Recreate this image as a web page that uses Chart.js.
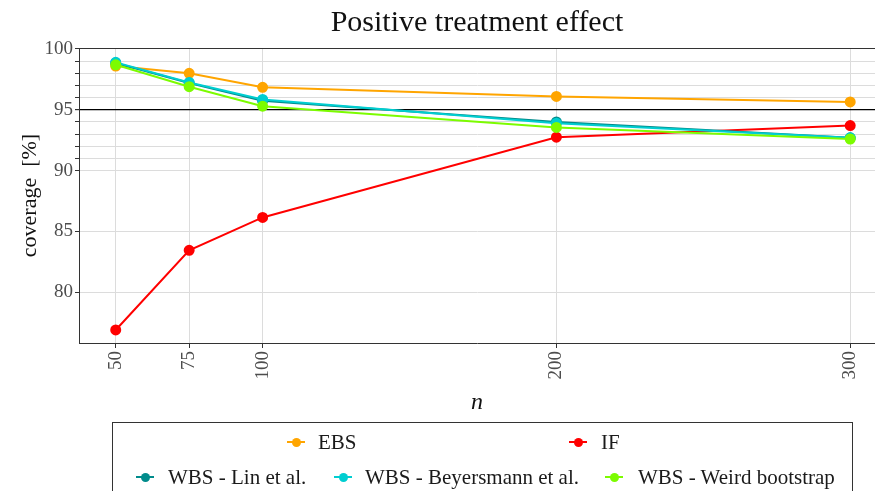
<!DOCTYPE html>
<html><head><meta charset="utf-8">
<script src="https://cdn.jsdelivr.net/npm/chart.js@4/dist/chart.umd.min.js"></script>
<style>
html,body{margin:0;padding:0;background:#fff;overflow:hidden}
#wrap{position:relative;width:875px;height:491px;overflow:hidden}
#c{position:absolute;left:0;top:0}
#legend{position:absolute;left:112px;top:422px;width:741px;height:120px;border:1px solid #333;box-sizing:border-box}
.txt{position:absolute;font:21px "Liberation Serif",serif;color:#1a1a1a;white-space:nowrap;line-height:24px;height:24px}
.mline{position:absolute;width:18px;height:2px}
.mdot{position:absolute;width:9px;height:9px;border-radius:50%}
</style></head>
<body>
<div id="wrap">
<canvas id="c" width="875" height="491"></canvas>
<div id="legend"></div>
</div>
<script>
// ---- data ----
const nValues = [50, 75, 100, 200, 300];
const ebsCoverage = [98.6, 98.0, 96.85, 96.1, 95.65];
const ifCoverage = [76.9, 83.45, 86.15, 92.75, 93.7];
const linCoverage = [98.85, 97.2, 95.75, 94.0, 92.7];
const beyersmannCoverage = [98.9, 97.25, 95.85, 93.9, 92.7];
const weirdCoverage = [98.7, 96.9, 95.3, 93.55, 92.6];
const seriesNames = ['EBS', 'IF', 'WBS - Lin et al.', 'WBS - Beyersmann et al.', 'WBS - Weird bootstrap'];
const seriesValues = [ebsCoverage, ifCoverage, linCoverage, beyersmannCoverage, weirdCoverage];
const seriesColors = ['#FFA500', '#FF0000', '#008B8B', '#00CED1', '#7CFC00'];
const xTickValues = [50, 75, 100, 200, 300];
const yTickValues = [80, 85, 90, 91, 92, 93, 94, 95, 96, 97, 98, 99, 100];
const yLabelValues = [80, 85, 90, 95, 100];
const referenceLevel = 95;
const chartTitle = 'Positive treatment effect';
const xTitle = 'n';
const yTitle = 'coverage  [%]';

// ---- chart ----
const SERIF = '"Liberation Serif", serif';
const datasets = seriesNames.map((name, i) => ({
  label: name,
  data: nValues.map((n, j) => ({x: n, y: seriesValues[i][j]})),
  borderColor: seriesColors[i],
  backgroundColor: seriesColors[i],
  pointBackgroundColor: seriesColors[i],
  pointBorderColor: seriesColors[i],
  borderWidth: 2,
  pointRadius: 4.5,
  pointHoverRadius: 4.5,
  tension: 0,
  order: seriesNames.length - i
}));

const framePlugin = {
  id: 'frameTop',
  beforeDatasetsDraw(chart) {
    const {ctx, chartArea} = chart;
    ctx.save();
    ctx.strokeStyle = '#333';
    ctx.lineWidth = 1;
    ctx.beginPath();
    ctx.moveTo(chartArea.left, chartArea.top + 0.5);
    ctx.lineTo(chartArea.right, chartArea.top + 0.5);
    ctx.stroke();
    ctx.restore();
  }
};

new Chart(document.getElementById('c'), {
  type: 'line',
  data: {datasets},
  options: {
    responsive: false,
    devicePixelRatio: 1,
    animation: false,
    layout: {autoPadding: false, padding: {left: 0, right: 0, top: 0, bottom: 68}},
    plugins: {
      legend: {display: false},
      tooltip: {enabled: false},
      title: {
        display: true, text: chartTitle, fullSize: false,
        color: '#111', font: {family: SERIF, size: 30, weight: 'normal'},
        padding: {top: 5, bottom: 7}
      }
    },
    scales: {
      x: {
        type: 'linear', min: 37.5, max: 308.44,
        afterBuildTicks: s => { s.ticks = xTickValues.map(v => ({value: v})); },
        afterFit: s => { s.height = 80; s.paddingRight = 0; s.paddingLeft = 0; },
        ticks: {
          autoSkip: false, minRotation: 90, maxRotation: 90, padding: 3,
          color: '#4D4D4D', font: {family: SERIF, size: 19},
          callback: v => String(v)
        },
        grid: {color: '#DCDCDC', lineWidth: 1, tickLength: 5, tickColor: '#333', drawTicks: true},
        border: {display: true, color: '#333', width: 1},
        title: {display: true, text: xTitle, color: '#111',
          font: {family: SERIF, size: 24, style: 'italic'}, padding: {top: 0, bottom: 6}}
      },
      y: {
        type: 'linear', min: 75.83, max: 100.08,
        afterBuildTicks: s => { s.ticks = yTickValues.map(v => ({value: v})); },
        afterFit: s => { s.width = 79; },
        ticks: {
          autoSkip: false, padding: 2,
          color: '#4D4D4D', font: {family: SERIF, size: 19},
          callback: v => yLabelValues.includes(v) ? String(v) : ''
        },
        grid: {
          color: c => (c.tick && c.tick.value === referenceLevel) ? '#000' : '#DCDCDC',
          lineWidth: c => (c.tick && c.tick.value === referenceLevel) ? 1.2 : 1,
          tickLength: 4, tickColor: '#333', drawTicks: true
        },
        border: {display: true, color: '#333', width: 1},
        title: {display: true, text: yTitle, color: '#111',
          font: {family: SERIF, size: 22}, padding: {top: 17, bottom: 0}}
      }
    }
  },
  plugins: [framePlugin]
});

// ---- legend (built from the series arrays) ----
const legendLayout = [
  {mark: 296, text: 318, row: 442},
  {mark: 578, text: 601, row: 442},
  {mark: 145, text: 168, row: 477},
  {mark: 343, text: 365, row: 477},
  {mark: 614, text: 638, row: 477}
];
const lg = document.getElementById('legend');
const L0 = 113, T0 = 423;
seriesNames.forEach((name, i) => {
  const p = legendLayout[i];
  const ln = document.createElement('div');
  ln.className = 'mline';
  ln.style.background = seriesColors[i];
  ln.style.left = (p.mark - 9 - L0) + 'px';
  ln.style.top = (p.row - 1 - T0) + 'px';
  const dt = document.createElement('div');
  dt.className = 'mdot';
  dt.style.background = seriesColors[i];
  dt.style.left = (p.mark - 4.5 - L0) + 'px';
  dt.style.top = (p.row - 4.5 - T0) + 'px';
  const tx = document.createElement('div');
  tx.className = 'txt';
  tx.textContent = name;
  tx.style.left = (p.text - L0) + 'px';
  tx.style.top = (p.row - 12 - T0) + 'px';
  lg.appendChild(ln); lg.appendChild(dt); lg.appendChild(tx);
});
</script>
</body></html>
